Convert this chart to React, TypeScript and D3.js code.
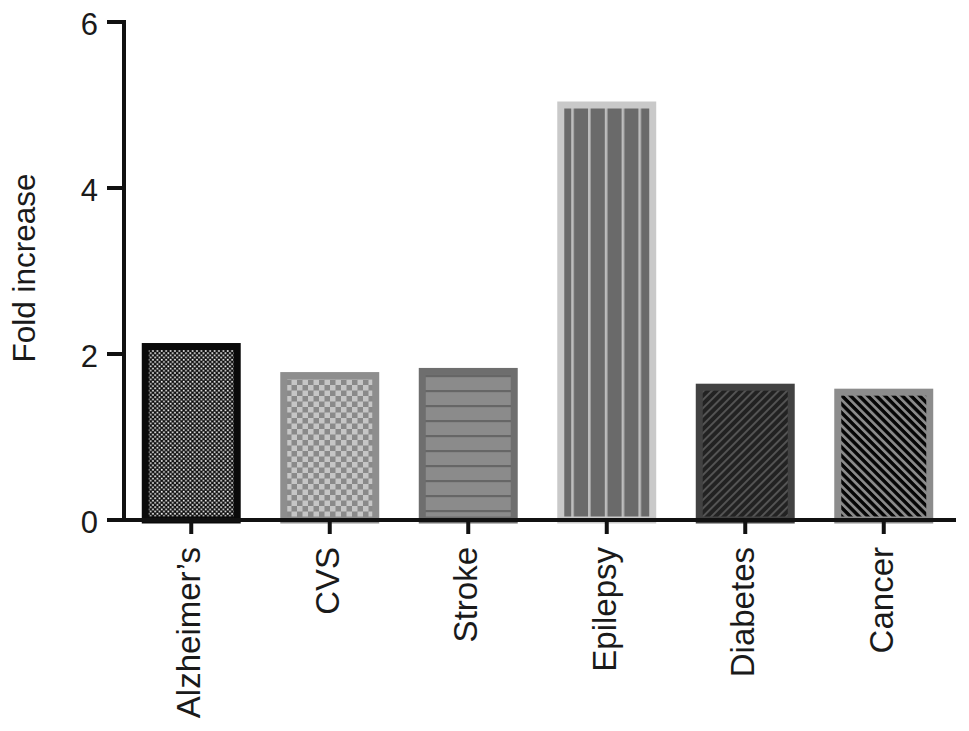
import React from "react";
import * as d3 from "d3";

const categories = ["Alzheimer’s", "CVS", "Stroke", "Epilepsy", "Diabetes", "Cancer"];
const foldIncrease = [2.09, 1.74, 1.79, 5.0, 1.6, 1.54];
const yTicks = [0, 2, 4, 6];

// one fill pattern + border colour per bar
const patternIds = ["fineCheck", "bigCheck", "hLines", "vLines", "diagUp", "diagDown"];
const borderColors = ["#0a0a0a", "#8e8e8e", "#6e6e6e", "#c9c9c9", "#424242", "#8c8c8c"];

const width = 969;
const height = 731;
const font = "'Liberation Sans', Arial, Helvetica, sans-serif";

export default function App() {
  const x = d3
    .scaleBand<string>()
    .domain(categories)
    .range([122, 953])
    .paddingInner(0.336)
    .paddingOuter(0.168);

  const y = d3.scaleLinear().domain([0, 6]).range([520, 22]);

  const axisLeft = 124;
  const axisRight = 956;
  const axisColor = "#111";

  return (
    <svg
      width={width}
      height={height}
      style={{ position: "absolute", left: 0, top: 0, background: "#fff" }}
    >
      <defs>
        {/* Alzheimer's: fine black/white checker */}
        <pattern id="fineCheck" width={4.4} height={4.4} patternUnits="userSpaceOnUse">
          <rect width={4.4} height={4.4} fill="#0d0d0d" />
          <rect x={0.3} y={0.3} width={1.7} height={1.7} fill="#f4f4f4" />
          <rect x={2.5} y={2.5} width={1.7} height={1.7} fill="#f4f4f4" />
        </pattern>
        {/* CVS: large grey checker */}
        <pattern id="bigCheck" width={11} height={11} patternUnits="userSpaceOnUse">
          <rect width={11} height={11} fill="#8a8a8a" />
          <rect x={0} y={0} width={5.5} height={5.5} fill="#c6c6c6" />
          <rect x={5.5} y={5.5} width={5.5} height={5.5} fill="#c6c6c6" />
        </pattern>
        {/* Stroke: horizontal lines */}
        <pattern id="hLines" width={10} height={15} patternUnits="userSpaceOnUse">
          <rect width={10} height={15} fill="#8b8b8b" />
          <rect x={0} y={0} width={10} height={2.2} fill="#666" />
        </pattern>
        {/* Epilepsy: vertical light lines on dark grey */}
        <pattern id="vLines" width={16.8} height={10} patternUnits="userSpaceOnUse">
          <rect width={16.8} height={10} fill="#6a6a6a" />
          <rect x={0} y={0} width={2.6} height={10} fill="#bdbdbd" />
        </pattern>
        {/* Diabetes: "/" lines */}
        <pattern
          id="diagUp"
          width={5.9}
          height={10}
          patternUnits="userSpaceOnUse"
          patternTransform="rotate(45)"
        >
          <rect width={5.9} height={10} fill="#222" />
          <rect x={0} y={0} width={1.9} height={10} fill="#555" />
        </pattern>
        {/* Cancer: "\" lines */}
        <pattern
          id="diagDown"
          width={6.1}
          height={10}
          patternUnits="userSpaceOnUse"
          patternTransform="rotate(-45)"
        >
          <rect width={6.1} height={10} fill="#050505" />
          <rect x={0} y={0} width={2.7} height={10} fill="#8a8a8a" />
        </pattern>
      </defs>

      {/* bars */}
      {categories.map((c, i) => (
        <rect
          key={c}
          x={x(c)}
          y={y(foldIncrease[i])}
          width={x.bandwidth()}
          height={y(0) - y(foldIncrease[i])}
          fill={`url(#${patternIds[i]})`}
          stroke={borderColors[i]}
          strokeWidth={7}
        />
      ))}

      {/* y axis */}
      <line x1={axisLeft} x2={axisLeft} y1={y(6) - 2} y2={y(0) + 2} stroke={axisColor} strokeWidth={4} />
      {yTicks.map((t) => (
        <g key={t} transform={`translate(0,${y(t)})`}>
          <line x1={107} x2={axisLeft} y1={0} y2={0} stroke={axisColor} strokeWidth={4} />
          <text
            x={98}
            dy="0.42em"
            textAnchor="end"
            fontFamily={font}
            fontSize={31}
            fill="#1a1a1a"
          >
            {t}
          </text>
        </g>
      ))}
      <text
        transform={`translate(35,${(y(0) + y(6)) / 2 - 3}) rotate(-90)`}
        textAnchor="middle"
        fontFamily={font}
        fontSize={31.5}
        fill="#1a1a1a"
      >
        Fold increase
      </text>

      {/* x axis */}
      <line x1={axisLeft - 2} x2={axisRight} y1={y(0)} y2={y(0)} stroke={axisColor} strokeWidth={4} />
      {categories.map((c) => {
        const cx = (x(c) ?? 0) + x.bandwidth() / 2;
        return (
          <g key={c}>
            <line x1={cx} x2={cx} y1={y(0)} y2={y(0) + 14} stroke={axisColor} strokeWidth={4} />
            <text
              transform={`translate(${cx},547) rotate(-90)`}
              dy="0.27em"
              textAnchor="end"
              fontFamily={font}
              fontSize={33}
              fill="#1a1a1a"
            >
              {c}
            </text>
          </g>
        );
      })}
    </svg>
  );
}
